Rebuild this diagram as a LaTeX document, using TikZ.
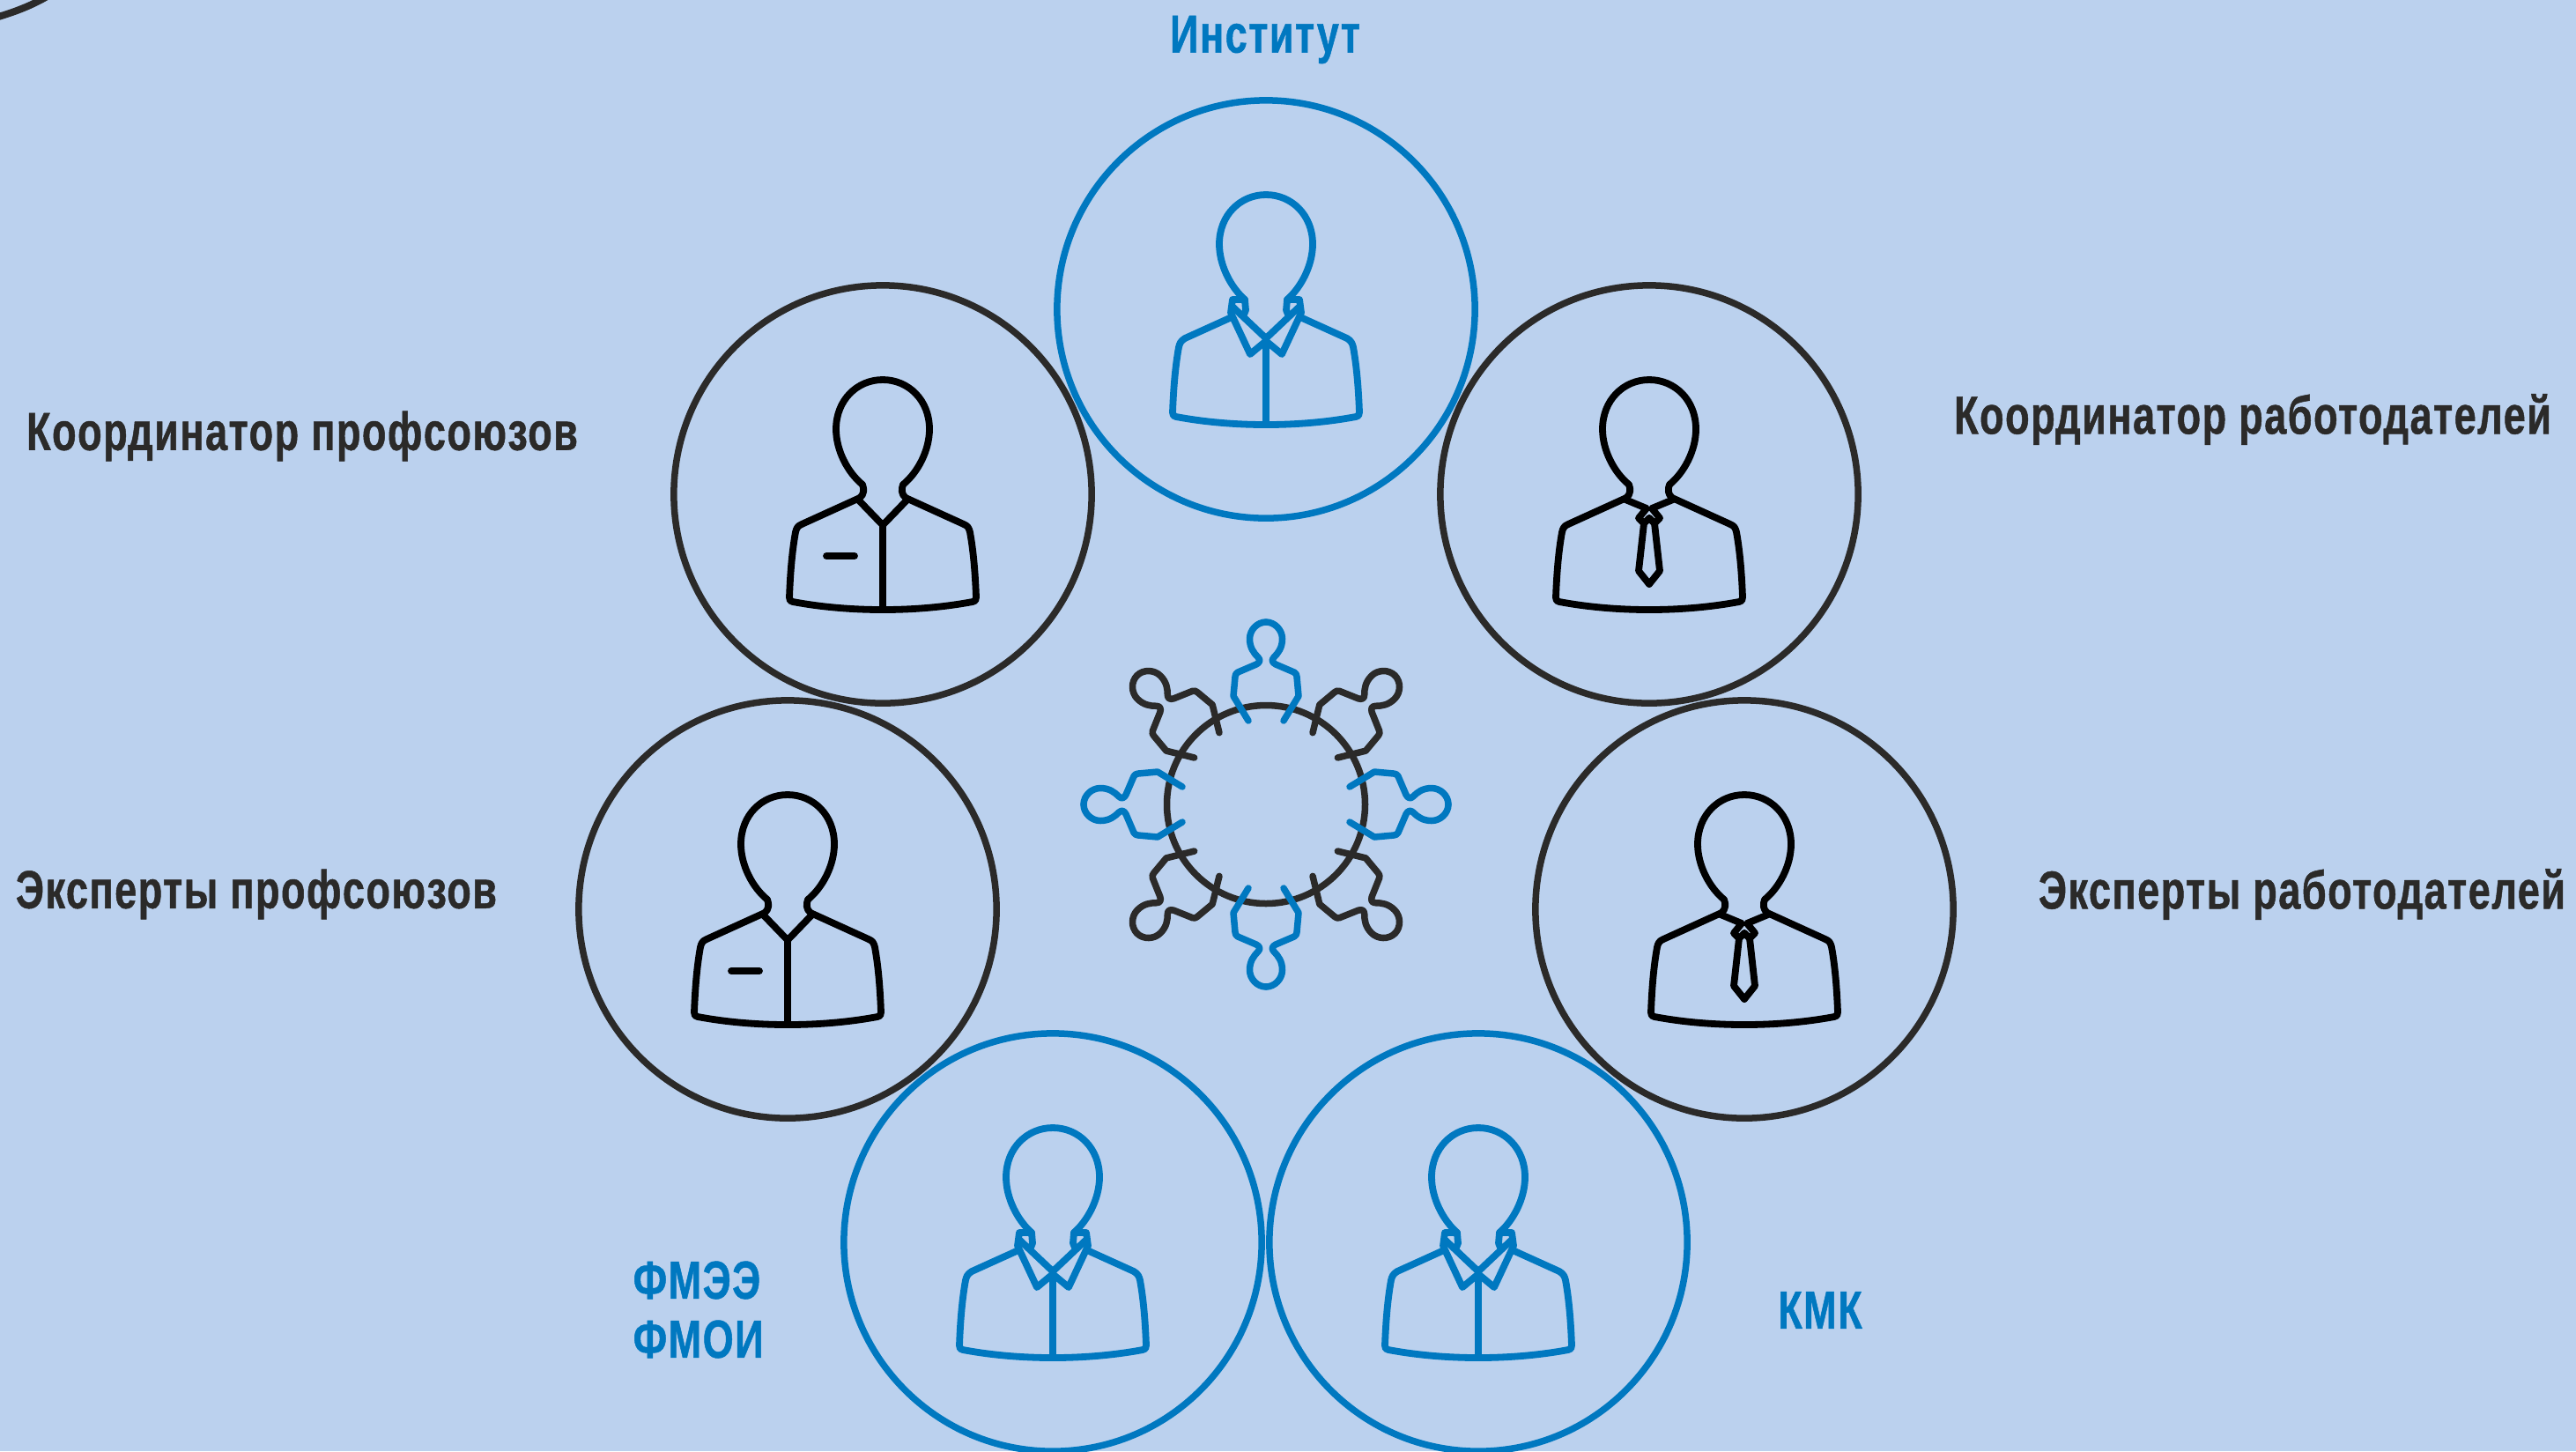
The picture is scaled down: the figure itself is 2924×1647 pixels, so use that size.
\documentclass[tikz,border=0pt]{standalone}
\usepackage{fontspec}
\setmainfont[FakeStretch=0.74,LetterSpace=2.5,BoldFont={Liberation Sans Bold},BoldFeatures={FakeStretch=0.74,LetterSpace=2.5,FakeBold=0.8}]{Liberation Sans}
\definecolor{bgc}{RGB}{187,209,238}
\definecolor{bluec}{RGB}{0,120,192}
\definecolor{darkc}{RGB}{43,42,41}
\tikzset{
  ringnode/.style={circle,draw,line width=.075cm,minimum size=4.74cm,inner sep=0pt},
  ringblue/.style={ringnode,draw=bluec},
  ringdark/.style={ringnode,draw=darkc},
  lbl/.style={inner sep=0pt,font=\fontsize{17.3pt}{20pt}\selectfont\bfseries,text=darkc},
  lblblue/.style={lbl,text=bluec},
  icon/.style={line width=.078cm,line join=round,line cap=round},
  mini/.style={line width=.075cm,line join=round,line cap=round},
}
\newcommand{\personblue}[1]{%
  \begin{scope}[shift={(#1)},icon,draw=bluec]
    \foreach \s in {1,-1}{
      \begin{scope}[xscale=\s]
        \draw (24,-11) .. controls (40,-25) and (53,-50) .. (53,-74) .. controls (53,-107) and (29,-130) .. (0,-130);
        \draw (39,9) -- (92,33) .. controls (97,36) and (98,39) .. (99,43) .. controls (103,65) and (105,90) .. (106,117)
          .. controls (106,120) and (105,122) .. (102,122) .. controls (70,128) and (35,131) .. (0,131);
        \draw (24,-11) -- (38,-11) -- (40,4) -- (18,51) -- (0,36);
        \draw (24,-11) -- (23,1) -- (25,6);
        \draw (37,-2) -- (0,33);
      \end{scope}
    }
    \draw (0,33) -- (0,131);
  \end{scope}}
\newcommand{\personcommon}{%
    \foreach \s in {1,-1}{
      \begin{scope}[xscale=\s]
        \draw (23,-11) .. controls (40,-25) and (53,-50) .. (53,-74) .. controls (53,-107) and (29,-130) .. (0,-130);
        \draw (23,-11) .. controls (21,-6) and (21,0) .. (26,4) -- (92,34) .. controls (97,36) and (98,39) .. (99,43) .. controls (103,65) and (105,90) .. (106,117)
          .. controls (106,120) and (105,122) .. (102,122) .. controls (70,128) and (35,131) .. (0,131);
      \end{scope}
    }}
\newcommand{\personpocket}[1]{%
  \begin{scope}[shift={(#1)},icon,draw=black]
    \personcommon
    \draw (-27,7) -- (0,35) -- (27,7);
    \draw (0,35) -- (0,131);
    \draw (-64,70) -- (-32,70);
  \end{scope}}
\newcommand{\persontie}[1]{%
  \begin{scope}[shift={(#1)},icon,draw=black]
    \personcommon
    \foreach \s in {1,-1}{
      \begin{scope}[xscale=\s]
        \draw (27,6) -- (3,16) -- (12,27) -- (6,33) -- (12,87) -- (0,102);
        \draw (0,27) -- (6,33);
      \end{scope}
    }
  \end{scope}}
\newcommand{\minifig}[2]{%
  \begin{scope}[rotate=#1,mini,draw=#2]
    \foreach \s in {1,-1}{
      \begin{scope}[xscale=\s]
        \draw (0,-207) .. controls (10,-207) and (18.5,-198) .. (18.5,-188) .. controls (18.5,-178) and (14,-172) .. (9,-167)
          .. controls (6,-164) and (7,-161) .. (11,-159) -- (32,-150) .. controls (34,-149) and (35,-147) .. (35,-145) -- (37,-123) -- (20,-95);
      \end{scope}
    }
  \end{scope}}
\begin{document}
\begin{tikzpicture}[x=.01cm,y=-.01cm]
  \useasboundingbox (0,0) rectangle (2924,1647);
  \fill[bgc] (0,0) rectangle (2924,1647);
  \begin{scope}
    \clip (0,0) rectangle (2924,1647);
    \draw[line width=.08cm,darkc] (-5,20) .. controls (15,14) and (35,7) .. (55,-5);
  \end{scope}

  \node[ringdark] (c2) at (1002,561) {};
  \node[ringdark] (c3) at (1872,561) {};
  \node[ringdark] (c4) at (894,1032) {};
  \node[ringdark] (c5) at (1980,1032) {};
  \node[ringblue] (c1) at (1437,351) {};
  \node[ringblue] (c6) at (1195,1410) {};
  \node[ringblue] (c7) at (1678,1410) {};

  \personblue{1437,351}
  \personblue{1195,1410}
  \personblue{1678,1410}
  \personpocket{1002,561}
  \personpocket{894,1032}
  \persontie{1872,561}
  \persontie{1980,1032}

  \begin{scope}[shift={(1437,913)}]
    \draw[line width=.075cm,darkc] (0,0) circle[radius=112.5];
    \foreach \a in {45,135,225,315}{\minifig{\a}{darkc}}
    \foreach \a in {0,90,180,270}{\minifig{\a}{bluec}}
  \end{scope}

  \node[lblblue] (t1) at (1436,45) {Институт};
  \node[lbl] (t2) at (343,495) {Координатор профсоюзов};
  \node[lbl] (t3) at (2557,476) {Координатор работодателей};
  \node[lbl] (t4) at (291,1015) {Эксперты профсоюзов};
  \node[lbl] (t5) at (2613,1015) {Эксперты работодателей};
  \node[lblblue,anchor=west] (t6) at (718,1453) {ФМЭЭ};
  \node[lblblue,anchor=west] (t7) at (718,1520) {ФМОИ};
  \node[lblblue] (t8) at (2066,1487) {КМК};
\end{tikzpicture}
\end{document}
